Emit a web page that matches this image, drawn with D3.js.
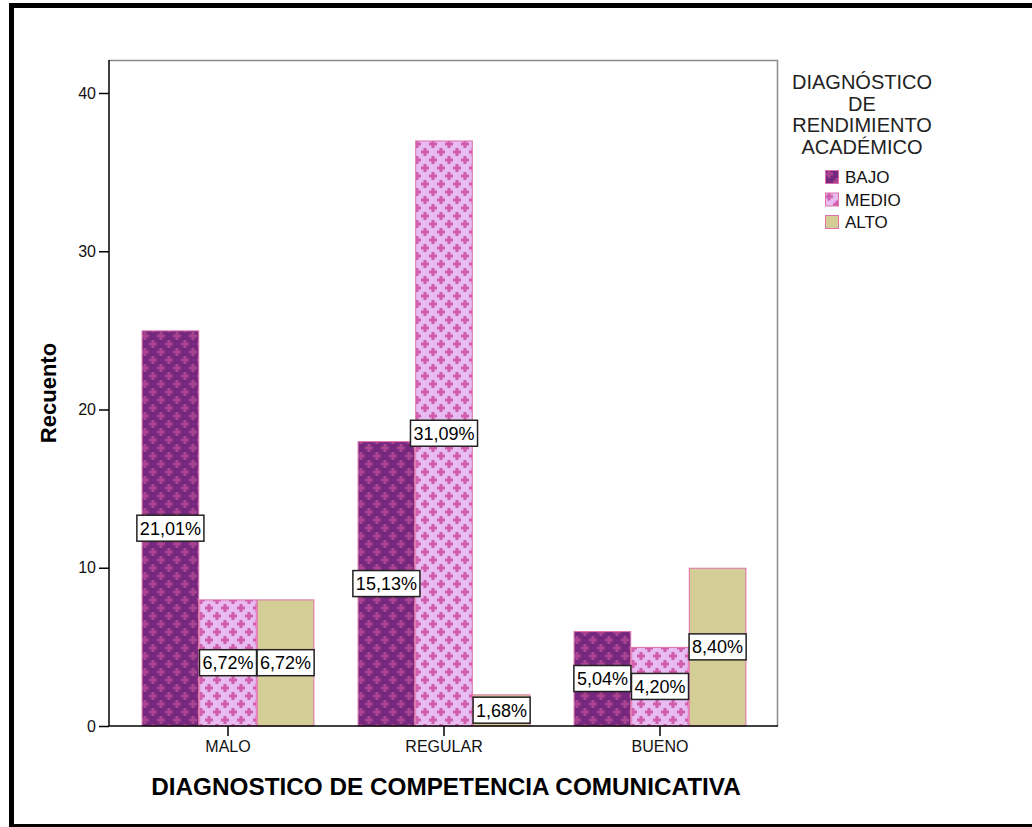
<!DOCTYPE html>
<html>
<head>
<meta charset="utf-8">
<script src="https://cdn.jsdelivr.net/npm/d3@7"></script>
<style>
  body { margin: 0; background: #fff; }
  svg text { font-family: "Liberation Sans", Arial, sans-serif; }
</style>
</head>
<body>
<svg id="chart" width="1032" height="827"></svg>
<script>
// Chart data
const categories = ['MALO', 'REGULAR', 'BUENO'];
const levels = ['BAJO', 'MEDIO', 'ALTO'];
const bajoCounts = [25, 18, 6];
const medioCounts = [8, 37, 5];
const altoCounts = [8, 2, 10];
const pctLabels = [
    ['21,01%', '15,13%', '5,04%'],
    ['6,72%', '31,09%', '4,20%'],
    ['6,72%', '1,68%', '8,40%']
];
const yTicks = [0, 10, 20, 30, 40];

const series = [bajoCounts, medioCounts, altoCounts];

const PLOT = { left: 109, top: 60, right: 778, bottom: 726 };
const plotW = PLOT.right - PLOT.left;
const plotH = PLOT.bottom - PLOT.top;

const svg = d3.select('#chart');

// Fill patterns: crosses on a coloured ground
const defs = svg.append('defs');
function crossPattern(id, ground, cross) {
    const p = defs.append('pattern')
        .attr('id', id)
        .attr('patternUnits', 'userSpaceOnUse')
        .attr('width', 16).attr('height', 16);
    p.append('rect').attr('width', 16).attr('height', 16).attr('fill', ground);
    [[4, 4], [12, 12]].forEach(([cx, cy]) => {
        p.append('rect').attr('x', cx - 1.5).attr('y', cy - 4)
            .attr('width', 3).attr('height', 8).attr('fill', cross);
        p.append('rect').attr('x', cx - 4).attr('y', cy - 1.5)
            .attr('width', 8).attr('height', 3).attr('fill', cross);
    });
    return `url(#${id})`;
}
const fills = [
    crossPattern('pBajo', '#76287f', '#a8448f'),
    crossPattern('pMedio', '#e8bcf0', '#cf5eae'),
    '#d4cd96'
];
const edge = '#e070aa';

// Outer frame
svg.append('rect')
    .attr('x', 11.5).attr('y', 5.5)
    .attr('width', 1100).attr('height', 821)
    .attr('fill', 'none')
    .attr('stroke', '#000')
    .attr('stroke-width', 5);

const g = svg.append('g')
    .attr('transform', `translate(${PLOT.left},${PLOT.top})`);

// Scales
const x0 = d3.scaleBand()
    .domain(categories)
    .range([11, 659])
    .paddingInner(0.2)
    .paddingOuter(0.1);

const x1 = d3.scaleBand()
    .domain(levels)
    .range([0, x0.bandwidth()]);

const y = d3.scaleLinear()
    .domain([0, 40])
    .range([plotH, plotH - 633]);

// Plot frame (top/right grey)
g.append('path')
    .attr('d', `M0,0.5H${plotW - 0.5}V${plotH}`)
    .attr('fill', 'none')
    .attr('stroke', '#8a8a8a')
    .attr('stroke-width', 1.5);

// Bars
levels.forEach((lv, li) => {
    g.selectAll(`.bar-${lv}`)
        .data(categories)
        .enter()
        .append('rect')
        .attr('class', `bar-${lv}`)
        .attr('x', c => x0(c) + x1(lv) + 0.5)
        .attr('y', (c, ci) => y(series[li][ci]) + 0.5)
        .attr('width', x1.bandwidth() - 1)
        .attr('height', (c, ci) => plotH - y(series[li][ci]) - 0.5)
        .attr('fill', fills[li])
        .attr('stroke', edge)
        .attr('stroke-width', 1);
});

// Axes
const yAxis = g.append('g')
    .call(d3.axisLeft(y).tickValues(yTicks).tickSize(10).tickSizeOuter(0).tickPadding(3));
yAxis.select('.domain').attr('d', `M0,0V${plotH}`).attr('stroke', '#000').attr('stroke-width', 1.5);
yAxis.selectAll('.tick line').attr('stroke', '#000').attr('stroke-width', 1.5);
yAxis.selectAll('.tick text').attr('font-size', 16).attr('fill', '#111');

const xAxis = g.append('g')
    .attr('transform', `translate(0,${plotH})`)
    .call(d3.axisBottom(x0).tickSize(10).tickSizeOuter(0).tickPadding(5));
xAxis.select('.domain').attr('d', `M0,0H${plotW}`).attr('stroke', '#000').attr('stroke-width', 1.5);
xAxis.selectAll('.tick line').attr('stroke', '#000').attr('stroke-width', 1.5);
xAxis.selectAll('.tick text').attr('font-size', 16).attr('fill', '#111');

// Percent labels, centred in each bar
levels.forEach((lv, li) => {
    categories.forEach((c, ci) => {
        const v = series[li][ci];
        const cx = x0(c) + x1(lv) + x1.bandwidth() / 2;
        let cy = (y(v) + y(0)) / 2;
        cy = Math.min(cy, plotH - 14);
        const lab = g.append('g').attr('transform', `translate(${cx},${cy})`);
        const t = lab.append('text')
            .attr('text-anchor', 'middle')
            .attr('dy', '0.36em')
            .attr('font-size', 18)
            .attr('fill', '#000')
            .text(pctLabels[li][ci]);
        const w = t.node().getComputedTextLength() + 6;
        lab.insert('rect', 'text')
            .attr('x', -w / 2).attr('y', -13)
            .attr('width', w).attr('height', 26)
            .attr('fill', '#fff')
            .attr('stroke', '#222')
            .attr('stroke-width', 1.5);
    });
});

// Axis titles
svg.append('text')
    .attr('x', 446).attr('y', 795)
    .attr('text-anchor', 'middle')
    .attr('font-size', 24.3)
    .attr('font-weight', 'bold')
    .text('DIAGNOSTICO DE COMPETENCIA COMUNICATIVA');

svg.append('text')
    .attr('transform', 'translate(56,393) rotate(-90)')
    .attr('text-anchor', 'middle')
    .attr('font-size', 22)
    .attr('font-weight', 'bold')
    .text('Recuento');

// Legend
const legendTitle = ['DIAGNÓSTICO', 'DE', 'RENDIMIENTO', 'ACADÉMICO'];
const legend = svg.append('g').attr('transform', 'translate(862,0)');
legend.selectAll('.lt')
    .data(legendTitle)
    .enter()
    .append('text')
    .attr('class', 'lt')
    .attr('x', 0)
    .attr('y', (d, i) => 89 + i * 21.5)
    .attr('text-anchor', 'middle')
    .attr('font-size', 20)
    .attr('fill', '#222')
    .text(d => d);

const items = svg.append('g').attr('transform', 'translate(825,170)');
levels.forEach((lv, li) => {
    const row = items.append('g').attr('transform', `translate(0,${li * 22.5})`);
    row.append('rect')
        .attr('x', 0.5).attr('y', 0.5)
        .attr('width', 13).attr('height', 13)
        .attr('fill', fills[li])
        .attr('stroke', edge)
        .attr('stroke-width', 1);
    row.append('text')
        .attr('x', 20).attr('y', 13)
        .attr('font-size', 17)
        .attr('fill', '#111')
        .text(lv);
});
</script>
</body>
</html>
